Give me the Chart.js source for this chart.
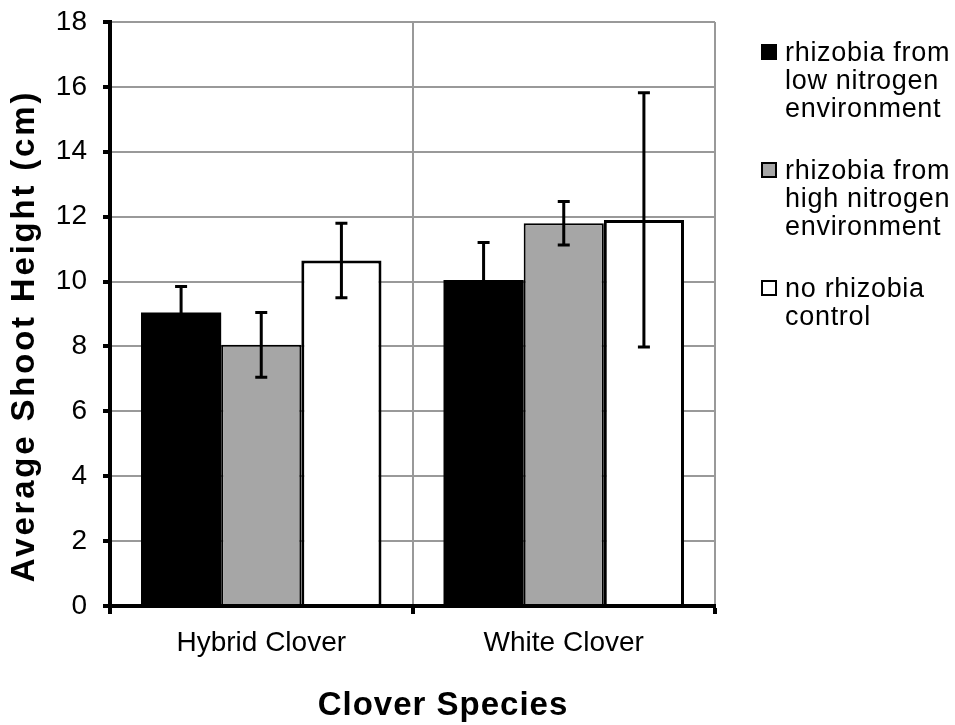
<!DOCTYPE html>
<html>
<head>
<meta charset="utf-8">
<script src="https://cdn.jsdelivr.net/npm/chart.js@4"></script>
<style>
  body { margin: 0; background: #fff; }
  #wrap { position: relative; width: 955px; height: 725px; }
  #legend { position: absolute; left: 761px; top: 38px; font-family: "Liberation Sans", Arial, sans-serif; font-size: 27px; line-height: 28px; letter-spacing: 0.7px; color: #000; }
  .item { position: relative; padding-left: 24px; margin-bottom: 34px; }
  .box { position: absolute; left: 0; top: 6px; width: 12px; height: 12px; border: 2px solid #000; }
</style>
</head>
<body>
<div id="wrap">
  <canvas id="chart" width="955" height="725"></canvas>
  <div id="legend"></div>
</div>
<script>
const categories = ["Hybrid Clover", "White Clover"];
const seriesNames = [
  ["rhizobia from", "low nitrogen", "environment"],
  ["rhizobia from", "high nitrogen", "environment"],
  ["no rhizobia", "control"],
];
const lowN = [9.05, 10.05];
const lowNErr = [0.8, 1.15];
const highN = [8.05, 11.8];
const highNErr = [1.0, 0.67];
const control = [10.65, 11.9];
const controlErr = [1.15, 3.92];
const yTicks = [0, 2, 4, 6, 8, 10, 12, 14, 16, 18];

const fills = ["#000000", "#a6a6a6", "#ffffff"];
const font = "'Liberation Sans', Arial, sans-serif";

// legend (html, multi-line labels)
const legend = document.getElementById("legend");
seriesNames.forEach((lines, i) => {
  const item = document.createElement("div");
  item.className = "item";
  item.innerHTML = `<span class="box" style="background:${fills[i]}"></span>` + lines.join("<br>");
  legend.appendChild(item);
});

// error bars drawn from the y scale
const errorBars = {
  id: "errorBars",
  afterDatasetsDraw(chart) {
    const ctx = chart.ctx;
    const y = chart.scales.y;
    ctx.save();
    ctx.strokeStyle = "#000";
    ctx.lineWidth = 3;
    chart.data.datasets.forEach((ds, di) => {
      const meta = chart.getDatasetMeta(di);
      meta.data.forEach((bar, i) => {
        const v = ds.data[i], e = ds.err[i];
        const top = y.getPixelForValue(v + e);
        const bot = y.getPixelForValue(v - e);
        ctx.beginPath();
        ctx.moveTo(bar.x, top); ctx.lineTo(bar.x, bot);
        ctx.moveTo(bar.x - 6, top); ctx.lineTo(bar.x + 6, top);
        ctx.moveTo(bar.x - 6, bot); ctx.lineTo(bar.x + 6, bot);
        ctx.stroke();
      });
    });
    // bottom axis line over the bars
    const a = chart.chartArea;
    ctx.lineWidth = 4;
    ctx.beginPath();
    ctx.moveTo(a.left - 2, a.bottom); ctx.lineTo(a.right, a.bottom);
    ctx.stroke();
    ctx.restore();
  },
};

// axis titles placed like the original
const axisTitles = {
  id: "axisTitles",
  afterDraw(chart) {
    const ctx = chart.ctx;
    ctx.save();
    ctx.fillStyle = "#000";
    ctx.font = "bold 33px " + font;
    ctx.textAlign = "center";
    ctx.textBaseline = "middle";
    ctx.letterSpacing = "1px";
    ctx.fillText("Clover Species", 443, 706);
    ctx.letterSpacing = "2.8px";
    ctx.translate(25, 336);
    ctx.rotate(-Math.PI / 2);
    ctx.fillText("Average Shoot Height (cm)", 0, 0);
    ctx.restore();
  },
};

new Chart(document.getElementById("chart"), {
  type: "bar",
  data: {
    labels: categories,
    datasets: [
      { label: seriesNames[0].join(" "), data: lowN, err: lowNErr, backgroundColor: fills[0], borderColor: "#000", borderWidth: 0 },
      { label: seriesNames[1].join(" "), data: highN, err: highNErr, backgroundColor: fills[1], borderColor: "#000", borderWidth: 2 },
      { label: seriesNames[2].join(" "), data: control, err: controlErr, backgroundColor: fills[2], borderColor: "#000", borderWidth: 3 },
    ],
  },
  options: {
    responsive: false,
    animation: false,
    layout: { padding: { top: 22, right: 240, left: 0, bottom: 0 } },
    datasets: { bar: { categoryPercentage: 0.795, barPercentage: 1 } },
    plugins: { legend: { display: false }, tooltip: { enabled: false } },
    scales: {
      x: {
        afterFit: (s) => { s.height = 119; },
        grid: { offset: true, color: "#999", lineWidth: 2, tickColor: "#000", tickWidth: 4, tickLength: 8 },
        border: { color: "#000", width: 4 },
        ticks: { color: "#000", padding: 12, font: { family: font, size: 28 } },
      },
      y: {
        min: 0,
        max: 18,
        afterFit: (s) => { s.width = 110; s.paddingTop = 0; s.paddingBottom = 0; },
        afterBuildTicks: (s) => { s.ticks = yTicks.map((v) => ({ value: v })); },
        grid: {
          color: (c) => (c.tick && c.tick.value === 0 ? "rgba(0,0,0,0)" : "#999"),
          lineWidth: 2, tickColor: "#000", tickWidth: 4, tickLength: 7,
        },
        border: { color: "#000", width: 4 },
        ticks: { color: "#000", padding: 16, font: { family: font, size: 28 } },
      },
    },
  },
  plugins: [errorBars, axisTitles],
});
</script>
</body>
</html>
